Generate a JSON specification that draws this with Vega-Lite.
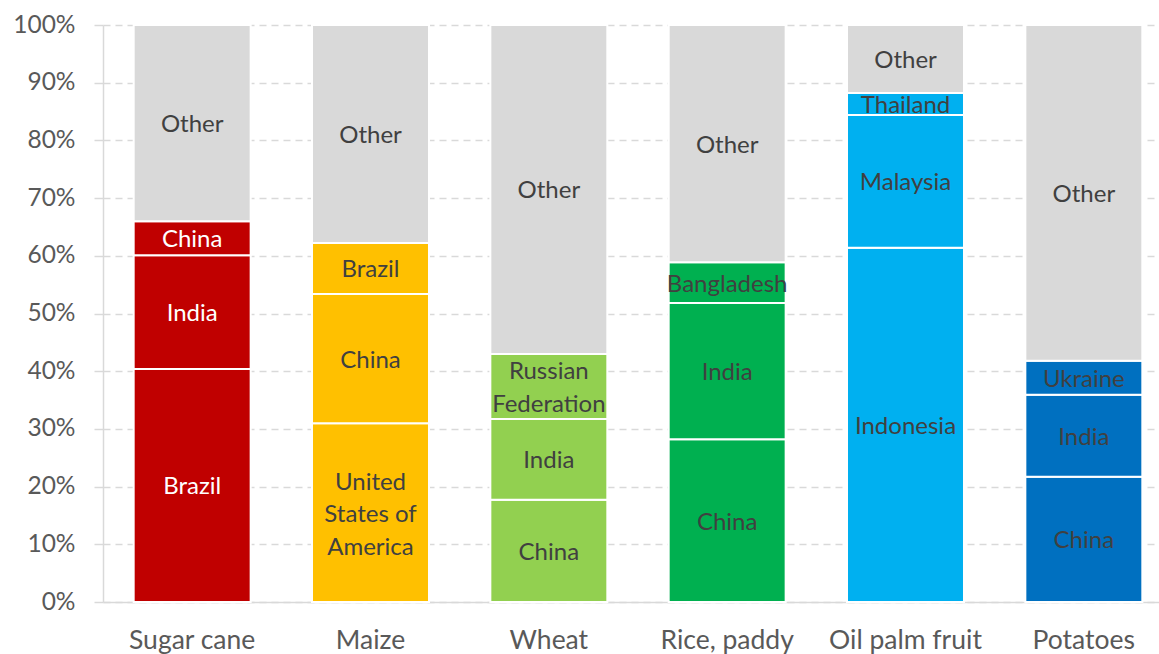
{
  "$schema": "https://vega.github.io/schema/vega-lite/v6.json",
  "autosize": {"type": "none"},
  "width": 1070,
  "height": 577,
  "padding": {"left": 103, "top": 25, "right": 0, "bottom": 52},
  "background": "white",
  "config": {
    "font": "Lato",
    "view": {"stroke": null}
  },
  "data": {
    "values": [
      {"crop": "Sugar cane", "rank": 1, "country": "Brazil", "label": "Brazil", "share": 40.4},
      {"crop": "Sugar cane", "rank": 2, "country": "India", "label": "India", "share": 19.7},
      {"crop": "Sugar cane", "rank": 3, "country": "China", "label": "China", "share": 5.9},
      {"crop": "Sugar cane", "rank": 4, "country": "Other", "label": "Other", "share": 34.0},
      {"crop": "Maize", "rank": 1, "country": "United States of America", "label": "United\nStates of\nAmerica", "share": 31.0},
      {"crop": "Maize", "rank": 2, "country": "China", "label": "China", "share": 22.4},
      {"crop": "Maize", "rank": 3, "country": "Brazil", "label": "Brazil", "share": 8.8},
      {"crop": "Maize", "rank": 4, "country": "Other", "label": "Other", "share": 37.8},
      {"crop": "Wheat", "rank": 1, "country": "China", "label": "China", "share": 17.7},
      {"crop": "Wheat", "rank": 2, "country": "India", "label": "India", "share": 14.0},
      {"crop": "Wheat", "rank": 3, "country": "Russian Federation", "label": "Russian\nFederation", "share": 11.3},
      {"crop": "Wheat", "rank": 4, "country": "Other", "label": "Other", "share": 57.0},
      {"crop": "Rice, paddy", "rank": 1, "country": "China", "label": "China", "share": 28.2},
      {"crop": "Rice, paddy", "rank": 2, "country": "India", "label": "India", "share": 23.6},
      {"crop": "Rice, paddy", "rank": 3, "country": "Bangladesh", "label": "Bangladesh", "share": 7.1},
      {"crop": "Rice, paddy", "rank": 4, "country": "Other", "label": "Other", "share": 41.1},
      {"crop": "Oil palm fruit", "rank": 1, "country": "Indonesia", "label": "Indonesia", "share": 61.4},
      {"crop": "Oil palm fruit", "rank": 2, "country": "Malaysia", "label": "Malaysia", "share": 23.0},
      {"crop": "Oil palm fruit", "rank": 3, "country": "Thailand", "label": "Thailand", "share": 3.8},
      {"crop": "Oil palm fruit", "rank": 4, "country": "Other", "label": "Other", "share": 11.8},
      {"crop": "Potatoes", "rank": 1, "country": "China", "label": "China", "share": 21.7},
      {"crop": "Potatoes", "rank": 2, "country": "India", "label": "India", "share": 14.2},
      {"crop": "Potatoes", "rank": 3, "country": "Ukraine", "label": "Ukraine", "share": 5.9},
      {"crop": "Potatoes", "rank": 4, "country": "Other", "label": "Other", "share": 58.2}
    ]
  },
  "transform": [
    {"stack": "share", "groupby": ["crop"], "sort": [{"field": "rank", "order": "ascending"}], "as": ["y0", "y1"]},
    {"calculate": "(datum.y0 + datum.y1) / 2", "as": "ymid"}
  ],
  "encoding": {
    "x": {
      "field": "crop",
      "type": "nominal",
      "sort": ["Sugar cane", "Maize", "Wheat", "Rice, paddy", "Oil palm fruit", "Potatoes"],
      "scale": {"paddingInner": 0.344, "paddingOuter": 0.172},
      "axis": {
        "title": null,
        "labelAngle": 0,
        "labelFontSize": 26.5,
        "labelColor": "#595959",
        "labelPadding": 25,
        "ticks": false,
        "domainColor": "#D9D9D9",
        "domainWidth": 1.5
      }
    }
  },
  "layer": [
    {
      "mark": {"type": "bar", "stroke": "white", "strokeWidth": 2},
      "encoding": {
        "y": {
          "field": "y0",
          "type": "quantitative",
          "scale": {"domain": [0, 100], "nice": false},
          "axis": {
            "title": null,
            "values": [0, 10, 20, 30, 40, 50, 60, 70, 80, 90, 100],
            "labelExpr": "datum.value + '%'",
            "labelFontSize": 24.5,
            "labelColor": "#595959",
            "labelPadding": 19,
            "tickSize": 9,
            "tickColor": "#D9D9D9",
            "tickWidth": 1.5,
            "domainColor": "#D9D9D9",
            "domainWidth": 1.5,
            "grid": true,
            "gridColor": "#D9D9D9",
            "gridWidth": 1.5,
            "gridDash": [7, 5]
          }
        },
        "y2": {"field": "y1"},
        "color": {
          "condition": {"test": "datum.country === 'Other'", "value": "#D9D9D9"},
          "field": "crop",
          "type": "nominal",
          "scale": {
            "domain": ["Sugar cane", "Maize", "Wheat", "Rice, paddy", "Oil palm fruit", "Potatoes"],
            "range": ["#C00000", "#FFC000", "#92D050", "#00B050", "#00B0F0", "#0070C0"]
          },
          "legend": null
        }
      }
    },
    {
      "transform": [{"filter": "datum.country !== 'United States of America' && datum.country !== 'Russian Federation'"}],
      "mark": {"type": "text", "fontSize": 24, "baseline": "middle", "align": "center", "dy": 2},
      "encoding": {
        "y": {"field": "ymid", "type": "quantitative"},
        "text": {"field": "label"},
        "color": {
          "condition": {"test": "datum.crop === 'Sugar cane' && datum.country !== 'Other'", "value": "#FFFFFF"},
          "value": "#404040"
        }
      }
    },
    {
      "transform": [{"filter": "datum.country === 'United States of America'"}],
      "mark": {"type": "text", "fontSize": 24, "baseline": "middle", "align": "center", "lineBreak": "\n", "lineHeight": 32.5, "dy": -30, "color": "#404040"},
      "encoding": {
        "y": {"field": "ymid", "type": "quantitative"},
        "text": {"field": "label"}
      }
    },
    {
      "transform": [{"filter": "datum.country === 'Russian Federation'"}],
      "mark": {"type": "text", "fontSize": 24, "baseline": "middle", "align": "center", "lineBreak": "\n", "lineHeight": 32.5, "dy": -14, "color": "#404040"},
      "encoding": {
        "y": {"field": "ymid", "type": "quantitative"},
        "text": {"field": "label"}
      }
    }
  ]
}
